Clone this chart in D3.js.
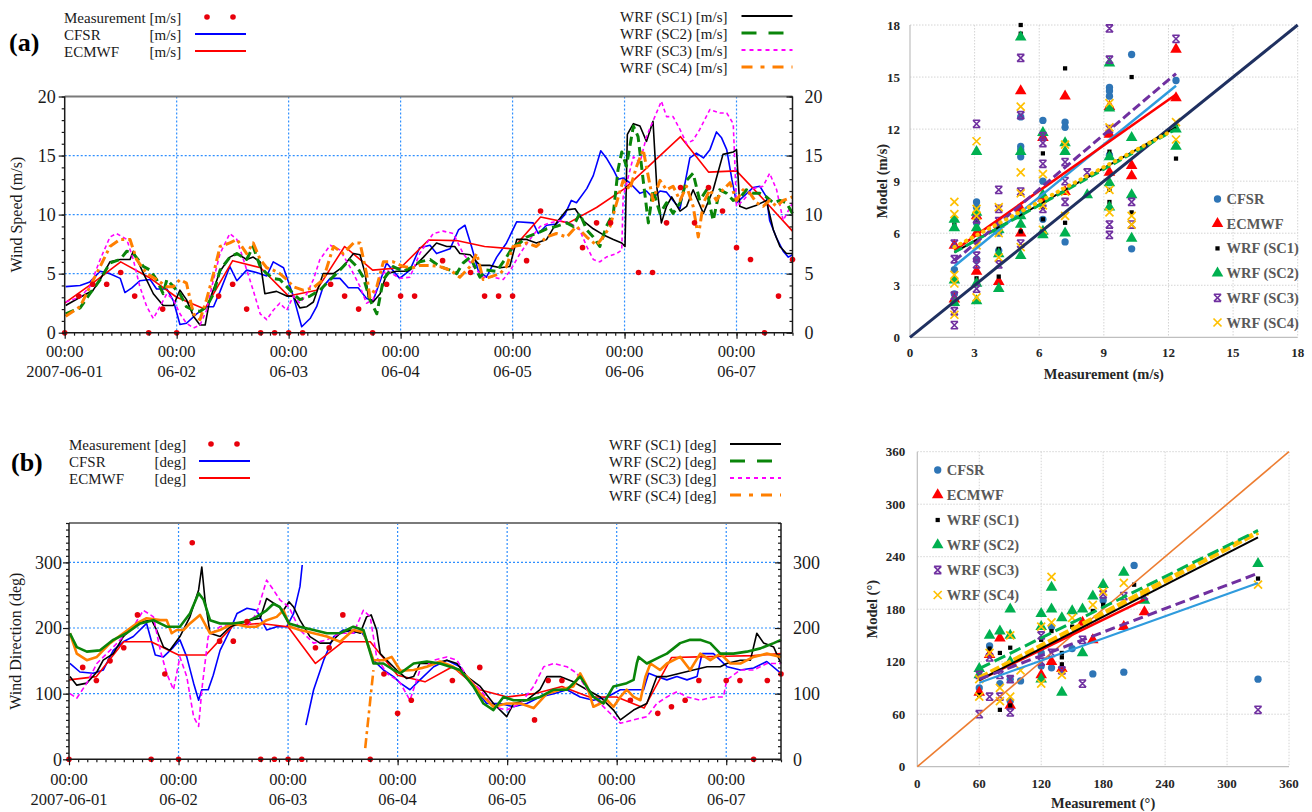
<!DOCTYPE html>
<html>
<head>
<meta charset="utf-8">
<script src="https://cdn.jsdelivr.net/npm/d3@7"></script>
<style>
  body { margin: 0; background: #fff; }
  svg text { font-family: "Liberation Serif", "Times New Roman", serif; }
</style>
</head>
<body>
<svg id="chart" width="1312" height="812"></svg>
<script>
// ---------------- data : time axis ----------------
const dayHours = [0, 24, 48, 72, 96, 120, 144];
const dayLabels = ["2007-06-01", "06-02", "06-03", "06-04", "06-05", "06-06", "06-07"];

// ---------------- (a) wind speed, [hour, m/s] ----------------
const wsMeas = [[0,0],[3,3.1],[6,4.1],[9,4.1],[12,5.1],[15,3.1],[18,0],[21,2.0],[24,0],[33,3.1],[36,4.1],[39,2.0],
  [42,0],[45,0],[48,0],[51,0],[57,4.1],[60,3.1],[63,2.0],[66,0],[69,4.1],[72,3.1],[75,3.1],[81,6.1],[87,5.1],
  [90,3.1],[93,3.1],[96,3.1],[99,6.1],[102,10.3],[111,7.2],[114,9.3],[117,9.3],[123,5.1],[126,5.1],[129,9.3],
  [132,12.3],[135,9.3],[138,12.3],[141,10.3],[144,7.2],[147,6.2],[150,0],[153,3.1],[156,6.2]];

const wsCFSR = [[0.2,3.9],[3.3,4.0],[5.4,4.3],[7.6,5.2],[9.7,5.0],[11.9,4.6],[12.9,3.4],[14.4,3.8],[16.1,4.4],
  [18.3,4.5],[19.7,3.7],[21.9,3.7],[23.3,2.7],[24.7,0.7],[26.1,0.8],[28.3,1.6],[30.4,2.2],[31.9,2.2],[33.3,3.5],
  [35.4,5.6],[36.9,4.4],[39,5.3],[41.1,5.1],[43.3,4.8],[44.7,6.0],[46.9,5.5],[49,3.1],[50.8,0.5],[52.6,1.2],
  [54,2.2],[55.4,3.9],[56.9,4.6],[59,4.6],[60.8,3.8],[62.9,3.8],[64.7,2.9],[66.1,2.7],[69,5.9],[71.8,4.6],
  [74,5.3],[76.1,7.2],[78.3,7.4],[79.7,6.7],[82.6,7.1],[84.4,8.7],[85.8,9.1],[87.2,7.3],[88.6,5.3],[90.4,4.7],
  [92.6,6.4],[94.7,7.6],[96.9,9.4],[100.4,9.3],[101.5,8.4],[103.3,9.1],[105.4,9.2],[107.2,10.0],[108.6,11.2],
  [109.7,11.0],[111.9,12.2],[113.3,13.3],[114.9,15.4],[116.1,14.8],[117.6,13.8],[118.6,13.0],[119.7,13.1],
  [121.1,12.7],[123.3,11.8],[124.7,12.0],[126.1,11.4],[127.6,12.0],[129,11.9],[130.4,11.2],[131.9,10.5],
  [134,14.8],[135.4,15.2],[136.9,14.8],[138.3,15.5],[139.7,17.0],[140.8,16.5],[141.9,15.5],[143,13.0],
  [144,11.0],[145.4,11.5],[147.6,12.3],[149,12.4],[150.4,11.5],[151.1,9.5],[152.6,8.0],[154,6.9],[155.1,6.4],[156,6.6]];

const wsECMWF = [[0,2.5],[6,4.2],[12,6.0],[18,4.7],[24,3.0],[30,2.0],[36,6.1],[42,5.5],[48,3.1],[54,3.6],[60,7.3],
  [66,5.3],[72,5.5],[78,7.85],[84,7.8],[90,7.3],[96,7.1],[102,9.8],[108,9.3],[114,10.6],[120,12.2],[126,14.4],
  [132,16.6],[138,13.6],[144,13.7],[150,11.2],[156,8.6]];

const wsSC1 = [[0.2,2.3],[3.3,3.0],[6.1,3.6],[7.6,4.5],[9.7,6.0],[11.9,6.2],[14,6.2],[14.7,6.9],[16.9,5.0],[19,3.3],
  [21.1,2.3],[23.3,2.3],[24.7,3.6],[26.1,2.8],[27.6,1.4],[29,0.65],[30.1,0.65],[31.1,2.8],[33.3,5.2],[35.4,6.4],
  [36.9,6.7],[39,6.2],[40.4,6.4],[41.9,6.0],[42.9,3.3],[45.4,3.5],[47.6,3.1],[49,3.1],[50.4,2.1],[51.9,2.2],
  [53.3,2.6],[55.4,5.0],[57.6,5.0],[59.7,5.6],[61.9,6.7],[63.3,6.6],[64.4,5.0],[65.1,3.0],[66.1,2.6],[67.6,3.3],
  [69,5.0],[71.1,5.2],[73.3,5.2],[74.7,5.5],[76.9,6.4],[79.7,7.6],[81.9,7.3],[83.6,7.3],[84.7,6.7],[86.9,6.6],
  [89,5.7],[91.1,5.7],[93.3,5.5],[95.4,5.6],[96.9,7.9],[99,7.9],[101.1,7.6],[103.3,7.9],[105.4,9.3],[107.6,10.4],
  [109.4,10.5],[111.1,9.5],[113.3,8.8],[115.4,8.3],[117.6,7.9],[119.4,7.6],[120.1,7.3],[120.6,16.8],[121.9,17.7],
  [123.3,17.5],[124.7,16.2],[126.1,17.9],[126.9,12.4],[127.9,9.3],[129,10.7],[130.1,11.5],[131.9,10.3],
  [133.3,10.7],[134.7,12.1],[136.9,10.1],[139,12.1],[141.1,15.1],[143.3,15.3],[144,15.5],[144.7,10.7],
  [146.1,10.5],[148.3,10.8],[150.4,11.2],[151.9,8.7],[153.3,7.3],[154.7,6.7],[156,6.7]];

const wsSC2 = [[0.2,1.6],[3.3,2.1],[5.4,3.3],[7.6,4.5],[9.7,5.9],[11.9,6.2],[13.3,6.9],[14.7,6.7],[16.9,5.6],
  [18.3,5.3],[19.7,4.5],[21.1,3.3],[21.9,4.5],[23.3,3.9],[24.7,3.3],[26.1,2.2],[27.6,1.9],[29,1.8],[30.4,2.2],
  [31.9,3.3],[33.3,5.3],[35.4,6.4],[36.9,6.7],[39,6.2],[40.4,7.3],[41.9,5.6],[43.3,5.0],[44.7,4.6],[46.1,4.5],
  [47.6,3.9],[49,3.3],[50.4,2.8],[52.6,3.1],[54.7,3.6],[56.9,4.5],[59,5.3],[61.1,6.2],[62.6,5.6],[64,4.7],
  [65.4,2.8],[66.9,1.6],[68.3,4.5],[70.4,5.6],[72.6,5.2],[74.7,5.6],[76.1,6.0],[78.3,6.2],[80.4,5.6],[82.6,5.3],
  [84,5.0],[85.4,5.9],[86.9,6.4],[89,4.7],[90.4,5.3],[92.6,5.2],[94.7,6.4],[96.1,7.3],[97.6,7.6],[99,8.1],
  [101.1,8.4],[103.3,8.8],[105.4,9.0],[107.6,9.3],[109,9.0],[110.4,10.1],[111.9,8.7],[113.3,8.1],[114.7,7.3],
  [116.1,9.0],[117.6,10.1],[118.6,13.8],[119.4,15.3],[120.4,14.1],[121.9,17.5],[122.9,16.6],[124,12.9],
  [125.1,9.3],[126.1,12.1],[127.6,10.1],[129,11.0],[130.4,10.1],[131.9,11.0],[133.3,12.9],[134.7,13.5],
  [136.1,11.2],[137.6,12.1],[139,9.5],[140.4,12.1],[141.9,11.8],[143.3,11.2],[144.7,11.4],[146.1,12.1],
  [147.6,11.8],[149,11.8],[150.4,11.5],[151.9,11.0],[153.3,11.2],[154.7,11.0],[156,10.1]];

const wsSC3 = [[0.2,2.6],[3.3,3.0],[5.4,3.9],[7.6,6.2],[9.7,8.1],[11.1,8.4],[13.3,7.9],[14.7,6.2],[16.1,3.9],
  [17.6,2.2],[19,1.2],[20.4,2.2],[21.9,3.3],[23.3,2.8],[24.7,1.6],[26.1,0.8],[27.6,0.4],[29,0.65],[30.4,1.9],
  [31.9,4.5],[33.3,6.7],[35.4,8.4],[36.9,7.9],[38.3,6.2],[40.4,3.6],[41.9,1.6],[43.3,1.1],[44.7,1.9],[46.1,2.5],
  [47.6,1.9],[49,3.1],[50.4,2.5],[51.9,3.3],[53.3,4.5],[54.7,6.2],[56.9,7.4],[59,7.0],[61.1,5.6],[63.3,3.9],
  [64.7,2.5],[66.1,2.8],[67.6,4.7],[69,5.3],[71.8,4.6],[74,4.7],[76.1,6.7],[79,8.4],[81.1,8.6],[83.3,8.4],
  [85.4,6.7],[87.6,5.6],[89.7,4.7],[91.9,4.7],[94,4.5],[95.4,5.2],[97.6,6.7],[99.7,7.9],[101.9,9.0],[104,9.3],
  [106.1,9.5],[108.3,9.3],[110.4,8.7],[111.9,7.3],[113.3,6.2],[114.7,6.0],[116.1,6.4],[118.3,6.7],[119.4,7.0],
  [119.7,11.5],[121.9,14.9],[123.3,14.4],[124.7,16.6],[126.5,18.3],[127.9,19.6],[129,18.3],[130.4,18.3],
  [131.9,17.2],[133.3,16.0],[134.7,16.3],[136.1,17.2],[138.3,18.9],[140.4,18.6],[141.9,18.6],[143.3,17.7],
  [144,10.7],[145.4,11.2],[147.6,12.2],[149.7,12.4],[151.1,13.5],[152.6,12.1],[154,9.5],[156,11.0]];

const wsSC4 = [[0.2,1.4],[3.3,2.2],[5.4,3.9],[7.6,5.6],[9.7,7.3],[11.9,7.9],[14,7.9],[15.4,6.2],[17.6,5.0],
  [19.7,4.5],[21.9,3.9],[23.3,3.9],[24.7,4.5],[26.1,4.2],[27.6,1.6],[29,1.1],[30.4,2.8],[31.9,5.0],[33.3,7.3],
  [35.4,7.6],[36.9,7.9],[39,6.7],[40.4,7.6],[41.9,6.2],[43.3,5.5],[44.7,5.3],[46.1,5.0],[47.6,4.5],[49,3.9],
  [51.1,3.6],[53.3,3.8],[55.4,4.5],[57.6,7.3],[59.7,6.7],[61.9,7.6],[63.3,7.6],[64.7,5.0],[65.4,3.0],[66.9,3.9],
  [68.3,6.0],[70.4,6.0],[72.6,5.6],[74.7,5.5],[76.1,5.7],[78.3,5.7],[80.4,5.6],[82.6,5.3],[84.7,4.7],[86.9,5.6],
  [88.3,6.7],[89.7,4.5],[91.1,4.7],[93.3,5.0],[94.7,5.6],[96.1,7.3],[97.6,7.4],[99,7.6],[101.1,7.3],[103.3,8.1],
  [105.4,8.4],[107.6,8.1],[109.7,9.0],[111.9,8.1],[114,7.4],[115.4,8.1],[116.9,9.0],[118.3,11.0],[119.7,12.9],
  [121.1,12.1],[122.6,14.1],[124,15.5],[125.1,13.2],[126.1,11.2],[127.6,12.9],[129,12.1],[130.4,12.4],
  [131.9,11.2],[133.3,12.4],[134.7,10.7],[135.8,8.1],[136.9,11.0],[138.3,12.1],[139.7,11.2],[141.1,12.1],
  [142.6,12.7],[144,11.2],[145.4,12.1],[146.9,11.8],[148.3,11.0],[149.7,10.7],[151.1,11.2],[152.6,10.7],
  [154,11.2],[156,11.5]];

// ---------------- (b) wind direction, [hour, deg] (null = break) ----------------
const wdMeas = [[0,0],[3,140],[6,120],[9,150],[12,170],[15,220],[18,0],[21,130],[24,0],[27,330],[33,180],[36,180],
  [39,210],[42,0],[45,0],[48,0],[51,0],[54,170],[57,170],[60,220],[66,0],[69,130],[72,70],[75,90],[84,120],
  [90,140],[102,60],[105,120],[108,120],[123,90],[129,70],[132,80],[135,90],[138,120],[144,120],[147,120],
  [150,0],[153,120],[156,130]];

const wdCFSR = [[0.2,146],[2.4,133],[5.3,131],[7.5,136],[9.7,166],[11.9,179],[14.1,187],[17,207],[18.9,159],
  [20.7,156],[22.9,171],[24.3,182],[25.8,156],[27.3,116],[28.4,90],[29.1,106],[30.5,106],[31.6,128],[33.1,166],
  [35.3,197],[36.8,222],[39,230],[41.1,227],[43.3,197],[45.5,202],[47.7,202],[49.2,222],[50.6,263],[51.1,296],
  [51.5,null],[51.9,52],[53.6,106],[55.8,151],[58,187],[60.1,197],[62.3,192],[63.8,197],[65.2,182],[66.7,151],
  [68.9,136],[71.1,126],[72.6,116],[74.7,106],[76.9,121],[79.9,141],[82.8,151],[85.7,141],[88.6,111],[91.5,85],
  [94.5,85],[97.4,80],[100.3,85],[103.2,95],[106.2,100],[109.1,106],[112,95],[114.9,90],[117.9,95],[120.8,106],
  [123.7,106],[125.9,106],[127,131],[128.8,126],[131,121],[133.2,126],[135.4,121],[137.6,126],[138.7,161],
  [141.2,161],[144.2,141],[147.1,136],[150,139],[152.9,149],[156,131]];

const wdECMWF = [[0,121],[6,126],[12,179],[18,179],[24,159],[30,159],[36,204],[42,207],[48,202],[54,146],[60,179],
  [66,179],[72,128],[78,118],[84,141],[90,106],[96,95],[102,100],[108,111],[114,95],[120,95],[126,78],[132,155],
  [138,156],[144,157],[150,158],[156,161]];

const wdSC1 = [[0.2,126],[1.7,113],[3.9,116],[6.1,133],[7.5,151],[9.7,161],[11.9,187],[14.1,202],[16.3,210],
  [18.1,212],[19.2,197],[20.7,171],[22.1,166],[24.3,187],[26.5,217],[28.4,258],[29.1,293],[29.8,243],[30.9,192],
  [33.1,187],[35.3,202],[37.5,207],[39.7,212],[41.9,215],[43.3,245],[45.5,235],[47,227],[48.2,240],[49.2,232],
  [50.6,212],[52.8,187],[55,177],[57.2,177],[59.4,192],[61.6,197],[63.8,192],[65.2,217],[66.2,220],[67.4,197],
  [68.2,161],[69.6,151],[71.8,136],[74,123],[75.5,126],[76.9,146],[79.9,146],[82.8,151],[85,146],[87.2,126],
  [90.1,111],[93,85],[95.9,65],[97.4,85],[100.3,90],[103.2,106],[104.7,126],[107.6,126],[110.5,118],[113.5,106],
  [116.4,95],[119.3,75],[120.8,60],[123.7,75],[126.6,85],[128.8,126],[131,126],[133.9,131],[136.8,136],
  [139.8,141],[142.7,141],[144.1,146],[147.1,151],[149.3,151],[150.7,192],[152.2,177],[154.4,171],[156,146]];

const wdSC2 = [[0.2,192],[1.7,171],[3.9,164],[6.8,166],[9.7,182],[12.6,192],[15.6,207],[18.5,212],[21.4,202],
  [24.3,202],[26.5,222],[28.4,253],[29.5,243],[30.9,212],[33.1,207],[36,207],[39,210],[41.1,217],[43.3,227],
  [44.8,237],[46.2,232],[48.2,207],[50.6,202],[53.6,197],[56.5,192],[59.4,192],[62.3,202],[64.5,197],[66.7,146],
  [68.9,146],[71.1,136],[72.6,131],[75.5,146],[78.4,149],[81.3,146],[83.5,141],[85.7,136],[88.6,111],[90.8,85],
  [93,75],[95.2,95],[97.4,90],[100.3,90],[103.2,95],[106.2,106],[109.1,106],[112,126],[114.9,95],[117.1,85],
  [119.3,111],[122.2,116],[123.7,121],[124.4,146],[124.8,156],[126.6,146],[129.5,156],[131,161],[133.9,177],
  [136.1,182],[138.3,182],[140.5,177],[142.7,161],[145.6,161],[148.5,164],[151.5,169],[154.4,177],[156,182]];

const wdSC3 = [[0.2,100],[1.7,93],[3.9,116],[6.1,146],[9,166],[11.9,187],[14.1,202],[16.3,227],[18.5,217],
  [20,166],[21.4,131],[22.9,106],[24.3,156],[25.8,126],[27.3,65],[28.4,50],[29.1,106],[30.5,187],[33.1,202],
  [36,207],[39,202],[41.1,222],[43.3,273],[44.8,258],[46.2,243],[48.2,232],[50.6,197],[53.6,177],[56.5,182],
  [59.4,192],[62.3,192],[64.5,227],[66,217],[67.4,156],[69.6,131],[71.8,121],[72.6,116],[74.7,90],[76.9,136],
  [79.9,151],[82.8,156],[85,151],[87.2,126],[90.1,106],[93,80],[95.9,75],[98.9,85],[101.8,111],[104,141],
  [106.2,146],[109.1,141],[111.3,131],[113.5,106],[116.4,85],[119.3,65],[120.8,55],[123.7,60],[126.6,65],
  [128.8,85],[131,95],[133.2,103],[135.4,95],[138.3,90],[141.2,95],[143.4,95],[144.1,121],[147.1,136],
  [150,136],[152.9,146],[156,146]];

const wdSC4 = [[0.2,192],[1.7,161],[3.9,151],[6.1,156],[9,177],[11.9,192],[14.8,207],[17,215],[20,212],[21.4,212],
  [22.5,192],[23.6,197],[25.1,197],[26.5,207],[28.7,220],[30.9,192],[33.1,197],[36,207],[39,202],[41.1,202],
  [43.3,212],[45.5,217],[47,227],[48.4,202],[50.6,197],[53.6,192],[56.5,187],[59.4,179],[62.3,197],[64.5,194],
  [66.7,151],[68.9,151],[70.7,156],[72.6,135],[75.5,136],[78.4,141],[81.3,149],[84.2,141],[87.2,126],[90.1,100],
  [93,80],[95.9,85],[98.9,85],[101.8,78],[104.7,100],[107.6,106],[110.5,111],[112,131],[113.5,111],[114.9,80],
  [116.4,85],[117.9,90],[119.3,80],[120.8,95],[122.2,106],[123.7,95],[125.2,90],[126.3,126],[127.4,146],
  [129.5,136],[131,146],[133.9,156],[136.1,136],[138.3,161],[140.5,151],[142.7,161],[144.9,146],[147.1,146],
  [150,156],[152.9,161],[156,156]];
// SC4 wrap-around piece after 06-03 16:00
const wdSC4Wrap = [[64.9,17],[66.7,136]];

// ---------------- scatter data : [measurement, [model values]] ----------------
const scWsCFSR = [[2.06,[3.9,2.5,2.0]],[3.09,[7.8,7.5,6.6,4.5]],[4.12,[5.0,6.0]],[5.14,[12.7,11.0,10.8,10.4]],
  [6.17,[12.5,9.0,6.8]],[7.2,[12.4,12.1,5.5]],[9.26,[14.4,14.2,13.9,10.5]],[10.29,[16.3,5.1]],[12.35,[14.8]]];
const scWsECMWF = [[2.06,[2.2,5.3]],[3.09,[3.8,6.0,7.0]],[4.12,[3.2,6.5]],[5.14,[14.2,6.0,7.4]],[6.17,[8.0,11.5]],
  [7.2,[13.9,8.4]],[9.26,[11.7,9.5,13.3]],[10.29,[9.9,9.3]],[12.35,[16.6,13.8]]];
const scWsSC1 = [[2.06,[6.5,2.0]],[3.09,[3.4,6.8,5.5]],[4.12,[3.5,5.1]],[5.14,[18.0,17.5,6.1]],[6.17,[10.6,6.8,7.5]],
  [7.2,[15.5,6.6]],[9.26,[10.7,10.4,7.8,8.5]],[10.29,[15.0,7.2]],[12.35,[10.3,12.2]]];
const scWsSC2 = [[2.06,[6.8,6.3,3.3,2.0]],[3.09,[10.7,7.2,6.3,3.1,2.1]],[4.12,[2.8,4.8,6.2]],
  [5.14,[17.3,10.7,7.0,6.5,4.7]],[6.17,[11.8,8.2,6.1,5.9]],[7.2,[11.2,10.7,6.0]],[8.23,[8.2]],
  [9.26,[15.8,13.2,10.4,8.9,7.5]],[10.29,[11.5,8.2,5.7]],[12.35,[12.0,11.0]]];
const scWsSC3 = [[2.06,[5.4,4.5,2.4,1.5,0.7]],[3.09,[12.3,6.8,4.7,4.2,2.8]],[4.12,[8.5,7.4,6.7,4.2]],
  [5.14,[16.1,12.8,8.4,5.4]],[6.17,[11.6,10.0,11.2,7.4]],[7.2,[10.1,9.0,7.8]],[8.23,[9.5]],
  [9.26,[17.8,16.0,12.0,6.5,5.9]],[10.29,[7.8,6.5]],[12.35,[17.2]]];
const scWsSC4 = [[2.06,[7.8,7.1,3.6,3.1,1.3]],[3.09,[11.3,7.4,7.0,5.3,2.3]],[4.12,[7.5,6.0,4.6]],
  [5.14,[13.3,9.5,8.3,5.2]],[6.17,[9.4,7.6,6.2]],[7.2,[11.1,8.4,7.0]],[9.26,[13.5,12.1,8.5,7.2]],
  [10.29,[7.0,6.5]],[12.35,[12.4,11.4]]];
// linear fits: [[x start, y start], [x end, y end]]
const fitWs = {
  CFSR: [[2.06,4.1],[12.35,14.5]], ECMWF: [[2.06,5.0],[12.35,14.0]], SC1: [[2.06,4.9],[12.35,12.1]],
  SC2: [[2.06,4.9],[12.35,12.0]], SC3: [[2.06,4.4],[12.35,15.2]], SC4: [[2.06,5.2],[12.0,11.8]]
};

const scWdCFSR = [[60,[90]],[70,[138]],[80,[95]],[90,[75,100]],[100,[98]],[120,[130,115]],[130,[113,160]],
  [140,[110]],[150,[135]],[170,[106]],[180,[190]],[200,[108]],[210,[230]],[330,[100]]];
const scWdECMWF = [[60,[85]],[70,[128]],[80,[147]],[90,[70]],[120,[105]],[130,[120]],[140,[112]],[160,[165]],
  [170,[145]],[200,[160]],[220,[177]]];
const scWdSC1 = [[60,[82]],[70,[135]],[80,[65,130]],[90,[136,70]],[120,[145,160]],[130,[155]],[140,[117,130,125]],
  [150,[160]],[170,[178]],[180,[185]],[210,[208]],[330,[215]]];
const scWdSC2 = [[60,[112,105]],[70,[150]],[80,[155]],[90,[180,150,120]],[120,[175,160,100]],[130,[205,180]],
  [140,[170,85]],[150,[178]],[160,[180,130]],[170,[195]],[180,[208]],[200,[222]],[220,[190]],[330,[232]]];
const scWdSC3 = [[60,[60,105]],[70,[80,125]],[80,[80,105]],[90,[62,100]],[120,[120,150]],[130,[130]],[140,[110]],
  [160,[95,145]],[180,[197]],[200,[195]],[220,[195]],[330,[65]]];
const scWdSC4 = [[60,[80,100]],[70,[130]],[80,[75,90]],[90,[80,150]],[100,[110]],[120,[95,160]],[130,[217,165]],
  [140,[105]],[150,[170]],[170,[185]],[180,[200]],[200,[210]],[220,[200]],[330,[208]]];
const fitWd = {
  CFSR: [[60,96],[330,210]], ECMWF: [[60,99],[220,191]], SC1: [[60,99],[330,262]],
  SC2: [[60,112],[330,270]], SC3: [[60,100],[330,221]], SC4: [[60,101],[330,268]]
};

// ---------------- styles ----------------
const C = { cfsr: "#0000FF", ecmwf: "#FF0000", sc1: "#000000", sc2: "#0A850A", sc3: "#FF00FF", sc4: "#FF7F00" };
const SC = { cfsr: "#2E75B6", ecmwf: "#FF0000", sc1: "#000000", sc2: "#00B050", sc3: "#7030A0", sc4: "#FFC000" };

const svg = d3.select("#chart");
const SERIF = '"Liberation Serif", "Times New Roman", serif';

// ================= time series panel =================
function drawTS(p) {
  const g = svg.append("g");
  const x = d3.scaleLinear().domain([0, 156]).range([p.x0, p.x1]);
  const y = d3.scaleLinear().domain([0, p.yMax]).range([p.yBot, p.yTop]);

  // grid
  g.selectAll("line.hg").data(p.yGrid).join("line").attr("class", "hg")
    .attr("x1", p.x0).attr("x2", p.x1).attr("y1", d => y(d)).attr("y2", d => y(d))
    .attr("stroke", "#2F8FFF").attr("stroke-width", 1.2).attr("stroke-dasharray", "2,2");
  g.selectAll("line.vg").data(dayHours.slice(1)).join("line").attr("class", "vg")
    .attr("x1", d => x(d)).attr("x2", d => x(d)).attr("y1", p.yTop).attr("y2", p.yBot)
    .attr("stroke", "#2F8FFF").attr("stroke-width", 1.2).attr("stroke-dasharray", "2,2");

  const line = d3.line().defined(d => d[1] != null).x(d => x(d[0])).y(d => y(d[1]));
  p.series.forEach(s => {
    g.append("path").datum(s.data).attr("d", line)
      .attr("fill", "none").attr("stroke", s.color).attr("stroke-width", s.width)
      .attr("stroke-dasharray", s.dash || null).attr("stroke-linejoin", "round");
  });

  g.selectAll("circle.meas").data(p.meas).join("circle").attr("class", "meas")
    .attr("cx", d => x(d[0])).attr("cy", d => y(d[1])).attr("r", 2.8).attr("fill", "#E8000B");

  // frame
  g.append("line").attr("x1", p.x0).attr("x2", p.x1).attr("y1", p.yTop).attr("y2", p.yTop)
    .attr("stroke", "#7a7a7a").attr("stroke-width", 2);
  [[p.x0, p.yTop, p.x0, p.yBot], [p.x1, p.yTop, p.x1, p.yBot], [p.x0, p.yBot, p.x1, p.yBot]].forEach(l => {
    g.append("line").attr("x1", l[0]).attr("y1", l[1]).attr("x2", l[2]).attr("y2", l[3])
      .attr("stroke", "#1a1a1a").attr("stroke-width", 1.5);
  });

  const style = sel => {
    sel.select(".domain").remove();
    sel.selectAll(".tick line").attr("stroke", "#1a1a1a").attr("stroke-width", 1.2);
    sel.selectAll(".tick text").attr("font-family", SERIF).attr("font-size", 18).attr("fill", "#1a1a1a");
  };
  const minorV = d3.range(0, p.yMax + 0.001, p.yMinor);
  g.append("g").attr("transform", `translate(${p.x0},0)`)
    .call(d3.axisLeft(y).tickValues(minorV).tickSize(3).tickFormat("")).call(style);
  g.append("g").attr("transform", `translate(${p.x0},0)`)
    .call(d3.axisLeft(y).tickValues(p.yMajor).tickSize(6).tickPadding(p.padL)).call(style);
  g.append("g").attr("transform", `translate(${p.x1},0)`)
    .call(d3.axisRight(y).tickValues(minorV).tickSizeInner(-3).tickSizeOuter(0).tickFormat("")).call(style);
  g.append("g").attr("transform", `translate(${p.x1},0)`)
    .call(d3.axisRight(y).tickValues(p.yMajor).tickSizeInner(-6).tickSizeOuter(0).tickPadding(p.padR)).call(style);
  g.append("g").attr("transform", `translate(0,${p.yBot})`)
    .call(d3.axisBottom(x).tickValues(d3.range(0, 157, 2)).tickSize(3).tickFormat("")).call(style);
  g.append("g").attr("transform", `translate(0,${p.yBot})`)
    .call(d3.axisBottom(x).tickValues(dayHours).tickSize(6).tickFormat("")).call(style);

  const lab = g.selectAll("g.xl").data(dayHours).join("g").attr("class", "xl")
    .attr("transform", d => `translate(${x(d)},${p.yBot})`);
  lab.append("text").attr("y", p.lab1).attr("text-anchor", "middle").attr("font-size", 16.5)
    .attr("fill", "#1a1a1a").text("00:00");
  lab.append("text").attr("y", p.lab2).attr("text-anchor", "middle").attr("font-size", 16.5)
    .attr("fill", "#1a1a1a").text((d, i) => dayLabels[i]);

  g.append("text").attr("transform", `translate(${p.titleX},${(p.yTop + p.yBot) / 2}) rotate(-90)`)
    .attr("text-anchor", "middle").attr("font-size", 16).attr("fill", "#1a1a1a").text(p.title);

  // panel letter
  g.append("text").attr("x", p.letterX).attr("y", p.letterY).attr("font-size", 26)
    .attr("font-weight", "bold").attr("fill", "#000").text(p.letter);

  // legends
  const L = p.legL;
  const rowsL = [["Measurement", "dots", C.ecmwf], ["CFSR", "line", C.cfsr], ["ECMWF", "line", C.ecmwf]];
  rowsL.forEach((r, i) => {
    const by = L.y + i * 17;
    g.append("text").attr("x", L.x).attr("y", by).attr("font-size", 15).attr("fill", "#1a1a1a").text(r[0]);
    g.append("text").attr("x", L.x + 85.5).attr("y", by).attr("font-size", 15).attr("fill", "#1a1a1a").text(p.unit);
    if (r[1] === "dots") {
      [L.s0 + 12, L.s0 + 38].forEach(cx => g.append("circle").attr("cx", cx).attr("cy", by - 6)
        .attr("r", 2.8).attr("fill", "#E8000B"));
    } else {
      g.append("line").attr("x1", L.s0).attr("x2", L.s0 + 51).attr("y1", by - 6).attr("y2", by - 6)
        .attr("stroke", r[2]).attr("stroke-width", 2.2);
    }
  });
  const R = p.legR;
  const rowsR = [["SC1", C.sc1, null, 2], ["SC2", C.sc2, "15,12", 3.2], ["SC3", C.sc3, "4,4", 2.2], ["SC4", C.sc4, "11,8,4,8", 3.2]];
  rowsR.forEach((r, i) => {
    const by = R.y + i * 17;
    g.append("text").attr("x", R.x).attr("y", by).attr("font-size", 15).attr("fill", "#1a1a1a")
      .text(`WRF (${r[0]}) ${p.unit}`);
    g.append("line").attr("x1", R.s0).attr("x2", R.s0 + 51).attr("y1", by - 5.5).attr("y2", by - 5.5)
      .attr("stroke", r[1]).attr("stroke-width", r[3]).attr("stroke-dasharray", r[2]);
  });
}

drawTS({
  x0: 64.7, x1: 792.5, yTop: 96.5, yBot: 332.7, yMax: 20, yMinor: 1, yMajor: [0, 5, 10, 15, 20], yGrid: [5, 10, 15],
  padL: 3, padR: 12, lab1: 24.5, lab2: 44.5, titleX: 22, title: "Wind Speed (m/s)", unit: "[m/s]",
  letter: "(a)", letterX: 9, letterY: 51,
  legL: { x: 64, y: 23, s0: 195 }, legR: { x: 620, y: 21.5, s0: 741.5 },
  meas: wsMeas,
  series: [
    { data: wsCFSR, color: C.cfsr, width: 1.6 },
    { data: wsECMWF, color: C.ecmwf, width: 1.6 },
    { data: wsSC1, color: C.sc1, width: 1.6 },
    { data: wsSC3, color: C.sc3, width: 1.6, dash: "4,3" },
    { data: wsSC2, color: C.sc2, width: 3, dash: "9,5" },
    { data: wsSC4, color: C.sc4, width: 3, dash: "10,4,3,4" }
  ]
});

drawTS({
  x0: 69, x1: 781, yTop: 523, yBot: 759.3, yMax: 360, yMinor: 10, yMajor: [0, 100, 200, 300], yGrid: [100, 200, 300],
  padL: 1, padR: 12, lab1: 25.5, lab2: 45.5, titleX: 21, title: "Wind Direction (deg)", unit: "[deg]",
  letter: "(b)", letterX: 11, letterY: 471,
  legL: { x: 69, y: 450, s0: 199 }, legR: { x: 609, y: 449.5, s0: 730 },
  meas: wdMeas,
  series: [
    { data: wdCFSR, color: C.cfsr, width: 1.6 },
    { data: wdECMWF, color: C.ecmwf, width: 1.6 },
    { data: wdSC1, color: C.sc1, width: 1.6 },
    { data: wdSC3, color: C.sc3, width: 1.6, dash: "5,3" },
    { data: wdSC4, color: C.sc4, width: 2.6 },
    { data: wdSC4Wrap, color: C.sc4, width: 2.6, dash: "10,4,3,4" },
    { data: wdSC2, color: C.sc2, width: 2.6 }
  ]
});

// ================= scatter panel =================
function starPath(r) {
  return `M${-r},${-r}L${r},${r}M${r},${-r}L${-r},${r}M${-r},${-r}H${r}M${-r},${r}H${r}`;
}
function crossPath(r) {
  return `M${-r},${-r}L${r},${r}M${r},${-r}L${-r},${r}`;
}
const markers = {
  circle: (sel, c) => sel.attr("d", d3.symbol(d3.symbolCircle, 42)()).attr("fill", c),
  triangle: (sel, c) => sel.attr("d", d3.symbol(d3.symbolTriangle, 58)()).attr("fill", c),
  square: (sel, c) => sel.attr("d", d3.symbol(d3.symbolSquare, 18)()).attr("fill", c),
  star: (sel, c) => sel.attr("d", starPath(3.6)).attr("fill", "none").attr("stroke", c).attr("stroke-width", 1.6),
  cross: (sel, c) => sel.attr("d", crossPath(4)).attr("fill", "none").attr("stroke", c).attr("stroke-width", 1.7)
};

function drawScatter(p) {
  const g = svg.append("g");
  const x = d3.scaleLinear().domain([0, p.max]).range([p.x0, p.x1]);
  const y = d3.scaleLinear().domain([0, p.max]).range([p.yBot, p.yTop]);
  const ticks = d3.range(0, p.max + 0.001, p.step);

  g.selectAll("line.gv").data(ticks.slice(1)).join("line").attr("class", "gv")
    .attr("x1", d => x(d)).attr("x2", d => x(d)).attr("y1", p.yTop).attr("y2", p.yBot)
    .attr("stroke", "#d4d4d4").attr("stroke-dasharray", "1.5,1.5");
  g.selectAll("line.gh").data(ticks.slice(1)).join("line").attr("class", "gh")
    .attr("x1", p.x0).attr("x2", p.x1).attr("y1", d => y(d)).attr("y2", d => y(d))
    .attr("stroke", "#d4d4d4").attr("stroke-dasharray", "1.5,1.5");
  g.append("line").attr("x1", p.x0).attr("x2", p.x1).attr("y1", p.yBot).attr("y2", p.yBot)
    .attr("stroke", "#bfbfbf").attr("stroke-width", 1.2);
  g.append("line").attr("x1", p.x0).attr("x2", p.x0).attr("y1", p.yTop).attr("y2", p.yBot)
    .attr("stroke", "#bfbfbf").attr("stroke-width", 1.2);

  g.selectAll("text.tx").data(ticks).join("text").attr("class", "tx")
    .attr("x", d => x(d)).attr("y", p.yBot + p.xLabDy).attr("text-anchor", "middle")
    .attr("font-size", 13).attr("font-weight", "bold").attr("fill", "#262626").text(d => d);
  g.selectAll("text.ty").data(ticks).join("text").attr("class", "ty")
    .attr("x", p.x0 - p.yLabDx).attr("y", d => y(d) + 4.5).attr("text-anchor", "end")
    .attr("font-size", 13).attr("font-weight", "bold").attr("fill", "#262626").text(d => d);

  g.append("text").attr("x", (p.x0 + p.x1) / 2).attr("y", p.xTitleY).attr("text-anchor", "middle")
    .attr("font-size", 14.5).attr("font-weight", "bold").attr("fill", "#262626").text(p.xTitle);
  g.append("text").attr("transform", `translate(${p.yTitleX},${(p.yTop + p.yBot) / 2}) rotate(-90)`)
    .attr("text-anchor", "middle").attr("font-size", 14.5).attr("font-weight", "bold")
    .attr("fill", "#262626").text(p.yTitle);

  // points
  p.sets.forEach(s => {
    const pts = s.data.flatMap(([m, vals]) => vals.map(v => [m, v]));
    g.selectAll(null).data(pts).join("path")
      .attr("transform", d => `translate(${x(d[0])},${y(d[1])})`)
      .call(sel => markers[s.marker](sel, s.color));
  });

  // 1:1 line
  g.append("line").attr("x1", x(0)).attr("y1", y(0)).attr("x2", x(p.max)).attr("y2", y(p.max))
    .attr("stroke", p.diagColor).attr("stroke-width", p.diagWidth);

  // fitted lines
  p.fits.forEach(f => {
    g.append("line").attr("x1", x(f.pts[0][0])).attr("y1", y(f.pts[0][1]))
      .attr("x2", x(f.pts[1][0])).attr("y2", y(f.pts[1][1]))
      .attr("stroke", f.color).attr("stroke-width", f.width)
      .attr("stroke-dasharray", f.dash || null).attr("stroke-linecap", f.cap || "butt");
  });

  // legend
  p.sets.forEach((s, i) => {
    const cy = p.leg.y + i * p.leg.dy;
    g.append("path").attr("transform", `translate(${p.leg.x},${cy})`).call(sel => markers[s.marker](sel, s.color));
    g.append("text").attr("x", p.leg.x + 9).attr("y", cy + 5).attr("font-size", 14.5)
      .attr("font-weight", "bold").attr("fill", "#595959").text(s.name);
  });
}

const setStyle = [
  { name: "CFSR", marker: "circle", color: SC.cfsr },
  { name: "ECMWF", marker: "triangle", color: SC.ecmwf },
  { name: "WRF (SC1)", marker: "square", color: SC.sc1 },
  { name: "WRF (SC2)", marker: "triangle", color: SC.sc2 },
  { name: "WRF (SC3)", marker: "star", color: SC.sc3 },
  { name: "WRF (SC4)", marker: "cross", color: SC.sc4 }
];

drawScatter({
  x0: 910, x1: 1297.7, yBot: 337.3, yTop: 25, max: 18, step: 3, xLabDy: 20, yLabDx: 10,
  xTitle: "Measurement (m/s)", xTitleY: 379, yTitle: "Model (m/s)", yTitleX: 887,
  diagColor: "#1F3060", diagWidth: 3,
  leg: { x: 1217.5, y: 199, dy: 24.7 },
  sets: [scWsCFSR, scWsECMWF, scWsSC1, scWsSC2, scWsSC3, scWsSC4].map((d, i) => ({ ...setStyle[i], data: d })),
  fits: [
    { pts: fitWs.SC1, color: SC.sc1, width: 2 },
    { pts: fitWs.CFSR, color: "#2F9BDD", width: 2.5 },
    { pts: fitWs.ECMWF, color: SC.ecmwf, width: 2.5 },
    { pts: fitWs.SC2, color: SC.sc2, width: 3, dash: "9,4" },
    { pts: fitWs.SC3, color: SC.sc3, width: 3, dash: "9,4" },
    { pts: fitWs.SC4, color: SC.sc4, width: 4, dash: "0.5,6", cap: "round" }
  ]
});

drawScatter({
  x0: 917.3, x1: 1289, yBot: 766.7, yTop: 451.7, max: 360, step: 60, xLabDy: 21, yLabDx: 12,
  xTitle: "Measurement (°)", xTitleY: 808, yTitle: "Model (°)", yTitleX: 877,
  diagColor: "#ED7D31", diagWidth: 1.6,
  leg: { x: 937.7, y: 470, dy: 25 },
  sets: [scWdCFSR, scWdECMWF, scWdSC1, scWdSC2, scWdSC3, scWdSC4].map((d, i) => ({ ...setStyle[i], data: d })),
  fits: [
    { pts: fitWd.CFSR, color: "#2F9BDD", width: 2.2 },
    { pts: fitWd.ECMWF, color: SC.ecmwf, width: 2.5 },
    { pts: fitWd.SC4, color: SC.sc4, width: 5, dash: "10,3" },
    { pts: fitWd.SC1, color: SC.sc1, width: 2 },
    { pts: fitWd.SC2, color: SC.sc2, width: 3, dash: "12,5" },
    { pts: fitWd.SC3, color: SC.sc3, width: 3, dash: "10,5" }
  ]
});
</script>
</body>
</html>
